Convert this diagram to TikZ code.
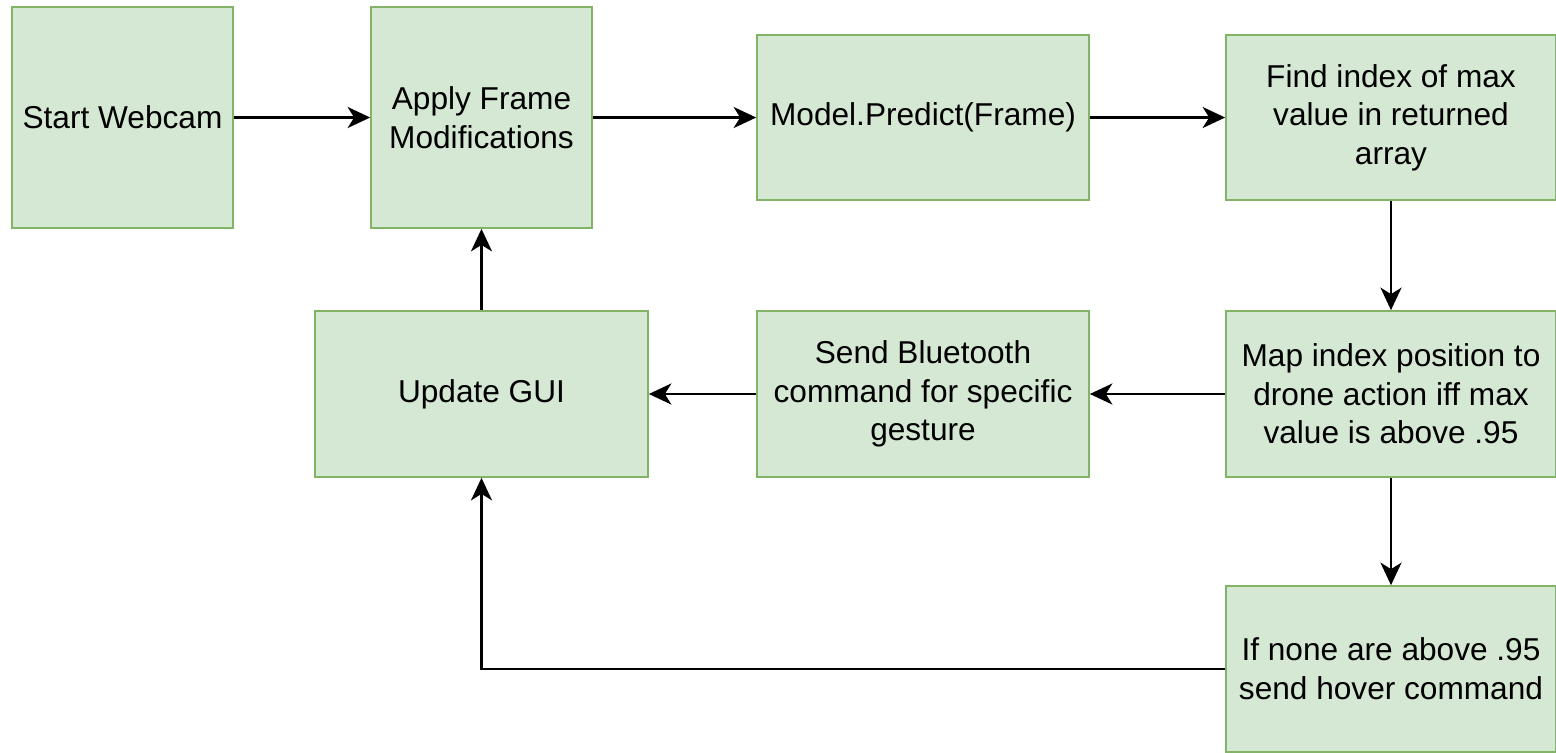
\documentclass[tikz,border=0pt]{standalone}
\usepackage{fontspec}
\setmainfont{Liberation Sans}
\usepackage{tikz}
\usetikzlibrary{arrows.meta}

\definecolor{boxfill}{HTML}{D5E8D4}
\definecolor{boxline}{HTML}{82B366}

\tikzset{
	stepbox/.style={shape=rectangle, draw=boxline, fill=boxfill, line width=1pt,
		align=center, inner sep=2pt, font=\fontsize{18pt}{22pt}\selectfont},
	flow/.style={-{Stealth[length=0.45cm, width=0.42cm, inset=0.13cm]}, line width=1.5pt}
}

\begin{document}
\begin{tikzpicture}[x=0.02cm, y=-0.02cm]

	\useasboundingbox (0, 0) rectangle (1556, 752);

	\node[stepbox, minimum width=4.42cm, minimum height=4.42cm] (start)   at (122.5, 117.5) {Start Webcam};
	\node[stepbox, minimum width=4.42cm, minimum height=4.42cm] (apply)   at (481.5, 117.5) {Apply Frame\\Modifications};
	\node[stepbox, minimum width=6.64cm, minimum height=3.30cm] (predict) at (923, 117.5)   {Model.Predict(Frame)};
	\node[stepbox, minimum width=6.60cm, minimum height=3.30cm] (find)    at (1391, 117.5)  {Find index of max\\value in returned\\array};
	\node[stepbox, minimum width=6.60cm, minimum height=3.32cm] (map)     at (1391, 394)    {Map index position to\\drone action iff max\\value is above .95};
	\node[stepbox, minimum width=6.64cm, minimum height=3.32cm] (send)    at (923, 394)     {Send Bluetooth\\command for specific\\gesture};
	\node[stepbox, minimum width=6.66cm, minimum height=3.32cm] (gui)     at (481.5, 394)   {Update GUI};
	\node[stepbox, minimum width=6.60cm, minimum height=3.32cm] (hover)   at (1391, 669)    {If none are above .95\\send hover command};

	\draw[flow] (start) -- (apply);
	\draw[flow] (apply) -- (predict);
	\draw[flow] (predict) -- (find);
	\draw[flow] (find) -- (map);
	\draw[flow] (map) -- (send);
	\draw[flow] (send) -- (gui);
	\draw[flow] (gui) -- (apply);
	\draw[flow] (map) -- (hover);
	\draw[flow] (hover.west) -| (gui.south);

\end{tikzpicture}
\end{document}
